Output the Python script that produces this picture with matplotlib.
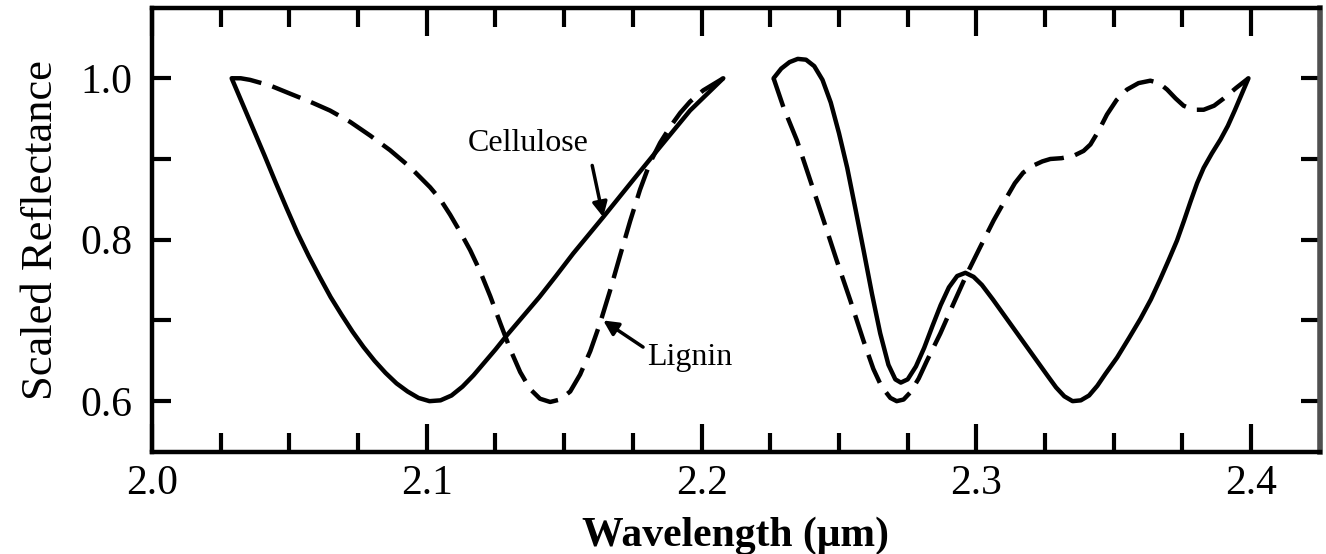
import numpy as np
import matplotlib
matplotlib.use('Agg')
import matplotlib.pyplot as plt
from matplotlib.ticker import MultipleLocator

# 2.03 - 2.21 um window
cell_x1 = [2.0290, 2.0330, 2.0370, 2.0410, 2.0450, 2.0490, 2.0530, 2.0570, 2.0610,
           2.0650, 2.0690, 2.0730, 2.0770, 2.0810, 2.0850, 2.0890, 2.0930, 2.0970,
           2.1010, 2.1050, 2.1090, 2.1130, 2.1170, 2.1210, 2.1250, 2.1290, 2.1330,
           2.1370, 2.1410, 2.1470, 2.1533, 2.1642, 2.1751, 2.1849, 2.1958, 2.2079]
cell_y1 = [1.000, 0.968, 0.936, 0.904, 0.871, 0.839, 0.808, 0.780, 0.754,
           0.729, 0.707, 0.686, 0.667, 0.650, 0.635, 0.622, 0.612, 0.604,
           0.600, 0.601, 0.607, 0.618, 0.632, 0.648, 0.664, 0.681, 0.697,
           0.713, 0.729, 0.755, 0.783, 0.828, 0.874, 0.915, 0.960, 1.000]
lig_x1 = [2.0290, 2.0323, 2.0357, 2.0430, 2.0502, 2.0575, 2.0648, 2.0721, 2.0794,
          2.0866, 2.0939, 2.1012, 2.1049, 2.1085, 2.1121, 2.1158, 2.1194, 2.1231,
          2.1267, 2.1304, 2.1340, 2.1376, 2.1412, 2.1449, 2.1485, 2.1522, 2.1558,
          2.1595, 2.1631, 2.1667, 2.1704, 2.1740, 2.1776, 2.1812, 2.1849, 2.1886,
          2.1922, 2.1958, 2.2006, 2.2079]
lig_y1 = [1.000, 1.000, 0.998, 0.991, 0.981, 0.971, 0.960, 0.946, 0.929,
          0.911, 0.890, 0.865, 0.850, 0.831, 0.810, 0.787, 0.761, 0.730,
          0.697, 0.664, 0.636, 0.615, 0.603, 0.599, 0.602, 0.612, 0.633,
          0.662, 0.697, 0.737, 0.781, 0.823, 0.862, 0.895, 0.920, 0.940,
          0.957, 0.971, 0.985, 1.000]

# 2.225 - 2.40 um window
cell_x2 = [2.2262, 2.2290, 2.2320, 2.2350, 2.2380, 2.2410, 2.2440, 2.2470, 2.2500,
           2.2530, 2.2560, 2.2590, 2.2620, 2.2650, 2.2680, 2.2705, 2.2725, 2.2750,
           2.2780, 2.2810, 2.2840, 2.2870, 2.2900, 2.2930, 2.2960, 2.2990, 2.3020,
           2.3060, 2.3100, 2.3140, 2.3180, 2.3220, 2.3260, 2.3290, 2.3320, 2.3350,
           2.3380, 2.3410, 2.3440, 2.3470, 2.3512, 2.3555, 2.3597, 2.3635, 2.3669,
           2.3700, 2.3730, 2.3755, 2.3779, 2.3803, 2.3827, 2.3857, 2.3888, 2.3915,
           2.3940, 2.3965, 2.3990]
cell_y2 = [1.000, 1.012, 1.020, 1.024, 1.023, 1.015, 0.998, 0.970, 0.932,
           0.889, 0.838, 0.786, 0.733, 0.684, 0.645, 0.627, 0.623, 0.627,
           0.643, 0.666, 0.693, 0.719, 0.741, 0.755, 0.759, 0.754, 0.744,
           0.726, 0.707, 0.688, 0.669, 0.650, 0.631, 0.617, 0.606, 0.600,
           0.601, 0.607, 0.619, 0.634, 0.654, 0.678, 0.702, 0.726, 0.751,
           0.775, 0.799, 0.823, 0.847, 0.870, 0.889, 0.907, 0.924, 0.941,
           0.960, 0.980, 1.000]
lig_x2 = [2.2262, 2.2298, 2.2347, 2.2395, 2.2444, 2.2492, 2.2541, 2.2589, 2.2625,
          2.2655, 2.2687, 2.2710, 2.2735, 2.2760, 2.2790, 2.2820, 2.2869, 2.2917,
          2.2966, 2.3014, 2.3063, 2.3111, 2.3140, 2.3170, 2.3208, 2.3240, 2.3269,
          2.3310, 2.3354, 2.3390, 2.3415, 2.3445, 2.3475, 2.3510, 2.3548, 2.3590,
          2.3633, 2.3665, 2.3694, 2.3725, 2.3754, 2.3790, 2.3827, 2.3865, 2.3900,
          2.3945, 2.3990]
lig_y2 = [1.000, 0.964, 0.923, 0.874, 0.824, 0.774, 0.725, 0.675, 0.640,
          0.618, 0.604, 0.600, 0.602, 0.611, 0.628, 0.650, 0.684, 0.721,
          0.758, 0.791, 0.824, 0.853, 0.870, 0.883, 0.892, 0.897, 0.900,
          0.901, 0.904, 0.910, 0.918, 0.935, 0.955, 0.973, 0.986, 0.994,
          0.997, 0.994, 0.986, 0.975, 0.966, 0.961, 0.961, 0.966, 0.975,
          0.988, 1.000]

plt.rcParams['font.family'] = ['Liberation Serif', 'DejaVu Serif']

fig = plt.figure(figsize=(13.26, 5.54), dpi=100)
ax = fig.add_axes([0.1146, 0.1841, 0.8808, 0.8014])

lw = 3.2
dash = (0, (6.8, 2.6))
for xs, ys in [(cell_x1, cell_y1), (cell_x2, cell_y2)]:
    ax.plot(xs, ys, color='black', lw=lw, solid_joinstyle='round', solid_capstyle='round')
for xs, ys in [(lig_x1, lig_y1), (lig_x2, lig_y2)]:
    ax.plot(xs, ys, color='black', lw=lw, linestyle=dash, dash_joinstyle='round')

ax.set_xlim(2.0, 2.425)
ax.set_ylim(0.537, 1.087)
ax.xaxis.set_minor_locator(MultipleLocator(0.025))
ax.yaxis.set_minor_locator(MultipleLocator(0.1))
ax.set_xticks([2.0, 2.1, 2.2, 2.3, 2.4])
ax.set_xticklabels(['2.0', '2.1', '2.2', '2.3', '2.4'])
ax.set_yticks([0.6, 0.8, 1.0])
ax.set_yticklabels(['0.6', '0.8', '1.0'])

ax.tick_params(which='both', direction='in', top=True, right=True, width=3, labelsize=30)
ax.tick_params(axis='x', which='major', length=20, pad=9)
ax.tick_params(axis='x', which='minor', length=14)
ax.tick_params(axis='y', which='both', length=14, pad=14)

for side in ['left', 'bottom', 'top']:
    ax.spines[side].set_linewidth(3.2)
ax.spines['right'].set_linewidth(4)
ax.spines['right'].set_color('#505050')

ax.set_xlabel('Wavelength (\u03bcm)', fontsize=30, fontweight='bold', labelpad=10)
ax.set_ylabel('Scaled Reflectance', fontsize=32, labelpad=14)

ax.text(2.1369, 0.9195, 'Cellulose', fontsize=23, ha='center', va='center')
ax.annotate('', xy=(2.1642, 0.828), xytext=(2.1602, 0.892),
            arrowprops=dict(arrowstyle='-|>', color='black', lw=2.5, mutation_scale=22,
                            shrinkA=0, shrinkB=0))
ax.text(2.1958, 0.654, 'Lignin', fontsize=23, ha='center', va='center')
ax.annotate('', xy=(2.1642, 0.700), xytext=(2.1787, 0.667),
            arrowprops=dict(arrowstyle='-|>', color='black', lw=2.5, mutation_scale=22,
                            shrinkA=0, shrinkB=0))

fig.savefig('out.png', dpi=100)
